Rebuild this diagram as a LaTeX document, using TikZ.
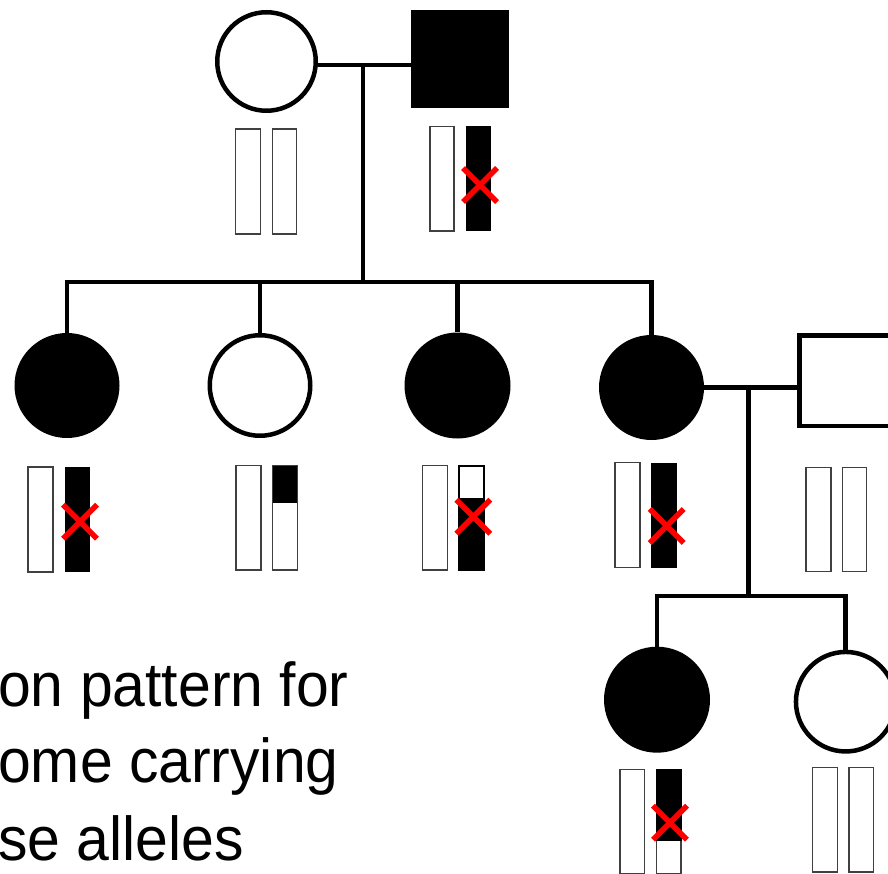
\documentclass[tikz,border=0pt]{standalone}
\usepackage{fontspec}
\setmainfont{Liberation Sans}
\tikzset{
  ped/.style={line width=4.5pt},
  femopen/.style={circle, draw, line width=4.5pt, minimum size=98.5pt, inner sep=0pt},
  femfill/.style={circle, fill=black, minimum size=105pt, inner sep=0pt},
  malefill/.style={rectangle, fill=black, minimum size=98pt, inner sep=0pt},
  maleopen/.style={rectangle, draw, line width=4.5pt, minimum size=90.5pt, inner sep=0pt},
  chr/.style={draw=black!75, line width=1.3pt, fill=white},
  chrblack/.style={fill=black},
  redx/.style={draw=red, line width=5.5pt},
  caption/.style={font=\fontsize{62}{74}\selectfont, inner sep=0pt, anchor=base west}
}
\newcommand\redcross[2]{%
  \draw[redx] (#1-17,#2-17) -- (#1+17,#2+17);
  \draw[redx] (#1-17,#2+17) -- (#1+17,#2-17);}
\begin{document}
\begin{tikzpicture}[x=1pt,y=-1pt]
\useasboundingbox (0,0) rectangle (888,874);
\fill[white] (0,0) rectangle (888,874);

% generation I
\node[femopen] (m) at (266.5,61.5) {};
\node[malefill] (f) at (460,59) {};
\coordinate (mj) at (363,65);
\coordinate (sj) at (363,282);
\draw[ped] (m.east |- mj) -- (mj -| f.west);
\draw[ped] (mj) -- (sj);

% generation II
\node[femfill] (c1) at (67,385.5) {};
\node[femopen, minimum size=100.5pt] (c2) at (260,385.5) {};
\node[femfill, minimum size=106pt] (c3) at (457.5,385.5) {};
\node[femfill] (c4) at (651.5,387.5) {};
\node[maleopen] (h) at (844.5,380.5) {};
\draw[ped] ([xshift=-2.25pt]c1.north |- sj) -- ([xshift=2.25pt]c4.north |- sj);
\foreach \c in {c1,c2,c3,c4} \draw[ped] (\c.north |- sj) -- (\c.north);

\coordinate (mj2) at (748.3,387.5);
\coordinate (sj2) at (748.3,596);
\draw[ped] (c4.east) -- (c4.east -| h.west);
\draw[ped] (mj2) -- (sj2);

% generation III
\node[femfill, minimum size=106pt] (gA) at (657,699.7) {};
\node[femopen, minimum size=99.5pt] (gB) at (845.7,701.7) {};
\draw[ped] ([xshift=-2.25pt]gA.north |- sj2) -- ([xshift=2.25pt]gB.north |- sj2);
\foreach \c in {gA,gB} \draw[ped] (\c.north |- sj2) -- (\c.north);

% chromosomes: mother
\draw[chr] (235.7,129) rectangle (260.3,234);
\draw[chr] (272.7,129) rectangle (296.7,234);
% father
\draw[chr] (430,126.7) rectangle (454,231);
\fill[chrblack] (466,126) rectangle (491,231);
\redcross{480}{185}
% child 1
\draw[chr] (28,467) rectangle (53,572);
\fill[chrblack] (64.7,467) rectangle (90,572);
\redcross{80}{521.7}
% child 2
\draw[chr] (236,465.7) rectangle (261,570);
\draw[chr] (272.7,465.7) rectangle (297.3,570);
\fill[chrblack] (272.7,465.7) rectangle (297.3,503.3);
% child 3
\draw[chr] (422.7,465.7) rectangle (447.3,570);
\draw[chr, draw=black] (459,465.7) rectangle (484,570);
\fill[chrblack] (458.5,498.3) rectangle (484.5,570.5);
\draw[black, line width=2pt] (459,465.7) -- (484,465.7);
\redcross{473.3}{516.7}
% child 4
\draw[chr] (615,462.7) rectangle (640,567.3);
\fill[chrblack] (651,462.7) rectangle (676.7,567.7);
\redcross{666.7}{526}
% husband
\draw[chr] (806,467.3) rectangle (831,571.7);
\draw[chr] (842.7,467.3) rectangle (866.7,571.7);
% grandchild A
\draw[chr] (620,769.3) rectangle (644.7,873.3);
\draw[chr] (656.3,769.3) rectangle (681,873.3);
\fill[chrblack] (655.8,768.8) rectangle (681.5,841);
\redcross{670}{822.7}
% grandchild B
\draw[chr] (812.7,767.7) rectangle (837.3,872);
\draw[chr] (849,767.7) rectangle (873.7,872);

% caption
\node[caption] (t1) at (-2,706) {\scalebox{0.95}[1]{on pattern for}};
\node[caption] (t2) at (-2,782) {\scalebox{0.95}[1]{ome carrying}};
\node[caption] (t3) at (-2,860) {\scalebox{0.95}[1]{se alleles}};
\end{tikzpicture}
\end{document}
